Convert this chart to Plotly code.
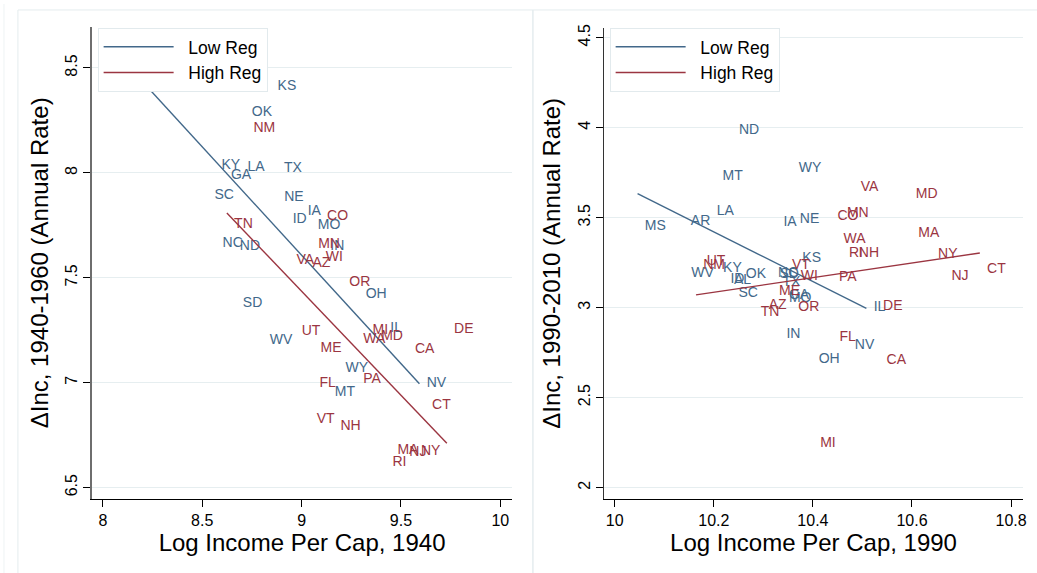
import numpy as np
import plotly.graph_objects as go

# ---------------- data ----------------
# Panel 1: 1940 log income per cap vs annual income growth 1940-1960
states_40_low = ["MS", "AR", "AL", "KS", "OK", "KY", "LA", "GA", "TX", "SC", "NE", "IA",
                 "ID", "MO", "NC", "ND", "IN", "OH", "SD", "IL", "WV", "WY", "NV", "MT"]
inc_40_low = [8.05, 8.25, 8.40, 8.843, 8.713, 8.560, 8.691, 8.608, 8.875, 8.525, 8.876, 8.994,
              8.919, 9.045, 8.566, 8.653, 9.108, 9.286, 8.668, 9.410, 8.804, 9.185, 9.593, 9.131]
gro_40_low = [8.60, 8.58, 8.52, 8.410, 8.287, 8.036, 8.024, 7.986, 8.019, 7.893, 7.882, 7.815,
              7.778, 7.751, 7.665, 7.648, 7.648, 7.419, 7.379, 7.256, 7.200, 7.069, 6.995, 6.954]

states_40_high = ["NM", "CO", "TN", "MN", "VA", "AZ", "WI", "OR", "MI", "WA", "MD", "DE",
                  "UT", "ME", "CA", "PA", "FL", "CT", "VT", "NH", "MA", "NJ", "NY", "RI"]
inc_40_high = [8.721, 9.092, 8.624, 9.047, 8.938, 9.018, 9.085, 9.204, 9.321, 9.274, 9.364, 9.731,
               8.964, 9.059, 9.534, 9.274, 9.054, 9.620, 9.040, 9.159, 9.446, 9.506, 9.564, 9.421]
gro_40_high = [8.212, 7.793, 7.754, 7.658, 7.582, 7.569, 7.598, 7.478, 7.248, 7.204, 7.219, 7.251,
               7.243, 7.162, 7.156, 7.014, 6.998, 6.893, 6.825, 6.793, 6.675, 6.667, 6.672, 6.620]

# Panel 2: 1990 log income per cap vs annual income growth 1990-2010
states_90_low = ["ND", "MT", "WY", "LA", "AR", "MS", "IA", "NE", "KS", "WV", "KY", "OK",
                 "ID", "AL", "NC", "SD", "TX", "SC", "GA", "MO", "IN", "NV", "OH", "IL"]
inc_90_low = [10.236, 10.203, 10.357, 10.191, 10.139, 10.046, 10.326, 10.359, 10.364, 10.140, 10.204, 10.250,
              10.219, 10.226, 10.315, 10.318, 10.324, 10.235, 10.337, 10.337, 10.332, 10.470, 10.397, 10.508]
gro_90_low = [3.985, 3.731, 3.772, 3.534, 3.477, 3.450, 3.474, 3.490, 3.275, 3.192, 3.216, 3.185,
              3.157, 3.152, 3.188, 3.186, 3.137, 3.078, 3.065, 3.050, 2.848, 2.788, 2.714, 3.001]

states_90_high = ["VA", "MD", "CO", "MN", "WA", "MA", "RI", "NH", "NY", "CT", "NJ", "UT",
                  "NM", "VT", "WI", "PA", "ME", "AZ", "TN", "OR", "DE", "FL", "CA", "MI"]
inc_90_high = [10.482, 10.593, 10.435, 10.454, 10.447, 10.598, 10.458, 10.478, 10.638, 10.737, 10.665, 10.171,
               10.164, 10.343, 10.361, 10.438, 10.317, 10.296, 10.280, 10.356, 10.527, 10.439, 10.534, 10.400]
gro_90_high = [3.665, 3.626, 3.507, 3.522, 3.381, 3.411, 3.302, 3.302, 3.297, 3.212, 3.175, 3.257,
               3.235, 3.235, 3.175, 3.168, 3.091, 3.010, 2.973, 2.999, 3.008, 2.833, 2.705, 2.247]

# Fitted-line coefficients (slope, intercept)
fit_40_low = (-1.0333, 16.9073)
fit_40_high = (-0.9914, 16.3585)
fit_90_low = (-1.3802, 17.4988)
fit_90_high = (0.4064, -1.0598)

series_names = ["Low Reg", "High Reg"]
x_ticks_40 = [8, 8.5, 9, 9.5, 10]
y_ticks_40 = [6.5, 7, 7.5, 8, 8.5]
x_ticks_90 = [10, 10.2, 10.4, 10.6, 10.8]
y_ticks_90 = [2, 2.5, 3, 3.5, 4, 4.5]

# ---------------- styling ----------------
BLUE = "#42688a"
RED = "#9b3541"
FONT = "Liberation Sans, Arial, Helvetica, sans-serif"
W, H = 1037, 573
PAD = "\u00a0\u00a0"

fig = go.Figure()


def add_group(states, xs, ys, fit, color, name, xa, ya, legend):
    xs = np.asarray(xs, dtype=float)
    ys = np.asarray(ys, dtype=float)
    slope, icpt = fit
    xline = np.array([xs.min(), xs.max()])
    fig.add_trace(go.Scatter(
        x=xline, y=icpt + slope * xline, mode="lines", name=PAD + name,
        line=dict(color=color, width=1.4), xaxis=xa, yaxis=ya, legend=legend,
        hoverinfo="skip"))
    fig.add_trace(go.Scatter(
        x=xs, y=ys, mode="markers+text", text=states, textposition="middle right",
        textfont=dict(family=FONT, size=14, color=color),
        marker=dict(size=10, opacity=0, color=color),
        showlegend=False, xaxis=xa, yaxis=ya, hoverinfo="text"))


add_group(states_40_low, inc_40_low, gro_40_low, fit_40_low, BLUE, series_names[0], "x", "y", "legend")
add_group(states_40_high, inc_40_high, gro_40_high, fit_40_high, RED, series_names[1], "x", "y", "legend")
add_group(states_90_low, inc_90_low, gro_90_low, fit_90_low, BLUE, series_names[0], "x2", "y2", "legend2")
add_group(states_90_high, inc_90_high, gro_90_high, fit_90_high, RED, series_names[1], "x2", "y2", "legend2")


def fmt(v):
    return ("%g" % v)


def xaxis(domain, rng, ticks, title):
    return dict(domain=domain, range=rng, tickvals=ticks, ticktext=[fmt(t) for t in ticks],
                showgrid=False, zeroline=False, showline=True, linecolor="black", linewidth=1.3,
                ticks="outside", ticklen=7, tickcolor="black", tickwidth=1,
                tickfont=dict(family=FONT, size=16, color="black"),
                title=dict(text=title, font=dict(family=FONT, size=24, color="black"), standoff=0))


def yaxis(domain, rng, ticks, title, anchor, lc, lw):
    return dict(domain=domain, range=rng, tickvals=ticks, ticktext=[fmt(t) for t in ticks],
                anchor=anchor, tickangle=-90,
                showgrid=True, gridcolor="#e6eef0", gridwidth=1, zeroline=False,
                showline=True, linecolor=lc, linewidth=lw,
                ticks="outside", ticklen=7, tickcolor="black", tickwidth=1,
                tickfont=dict(family=FONT, size=16, color="black"),
                title=dict(text=title, font=dict(family=FONT, size=24, color="black"), standoff=8))


legend_common = dict(bgcolor="white", bordercolor="#e2eaed", borderwidth=1,
                     font=dict(family=FONT, size=17.5, color="black"),
                     xanchor="left", yanchor="top", itemwidth=70, tracegroupgap=0,
                     itemclick=False)

fig.update_layout(
    width=W, height=H, autosize=False,
    margin=dict(l=0, r=0, t=0, b=0),
    paper_bgcolor="white", plot_bgcolor="white",
    font=dict(family=FONT),
    xaxis=xaxis([92.7 / W, 513.8 / W], [7.947, 10.058], x_ticks_40, "Log Income Per Cap, 1940"),
    yaxis=yaxis([1 - 498.3 / H, 1 - 23 / H], [6.4463, 8.696], y_ticks_40,
                "\u0394Inc, 1940-1960 (Annual Rate)", "x", "#6e6e6e", 2),
    xaxis2=dict(xaxis([606.7 / W, 1026.7 / W], [9.979, 10.8236], x_ticks_90, "Log Income Per Cap, 1990"),
                anchor="y2"),
    yaxis2=yaxis([1 - 498.3 / H, 1 - 24 / H], [1.9376, 4.555], y_ticks_90,
                 "\u0394Inc, 1990-2010 (Annual Rate)", "x2", "#333333", 1.2),
    legend=dict(legend_common, x=98 / W, y=1 - 24 / H),
    legend2=dict(legend_common, x=612 / W, y=1 - 24 / H),
    shapes=[
        dict(type="rect", xref="paper", yref="paper", x0=18 / W, x1=535 / W, y0=-0.02, y1=1 - 6 / H,
             line=dict(color="#e4ecee", width=1), layer="below"),
        dict(type="rect", xref="paper", yref="paper", x0=535 / W, x1=1.02, y0=-0.02, y1=1 - 6 / H,
             line=dict(color="#e4ecee", width=1), layer="below"),
        dict(type="line", xref="paper", yref="paper", x0=4 / W, x1=4 / W, y0=0, y1=1,
             line=dict(color="#eef3f4", width=1), layer="below"),
    ],
    showlegend=True,
)

fig.write_html("out.html", config={"displayModeBar": False},
               post_script="document.body.style.margin='0';document.body.style.overflow='hidden';")
